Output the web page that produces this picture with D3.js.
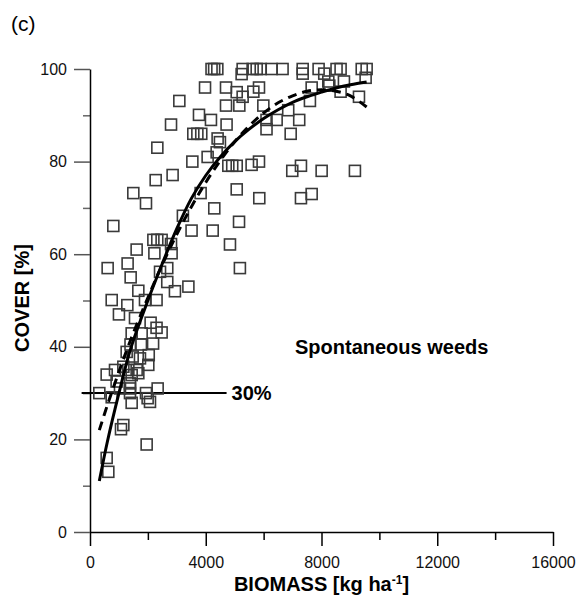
<!DOCTYPE html>
<html>
<head>
<meta charset="utf-8">
<script src="https://cdn.jsdelivr.net/npm/d3@7"></script>
<style>
  body { margin: 0; background: #fff; }
  svg { display: block; }
  text { font-family: "Liberation Sans", Arial, sans-serif; }
</style>
</head>
<body>
<div id="chart"></div>
<script>
// scatter of plots: biomass (kg/ha) vs cover (%)
var biomass = [
  4200, 4290, 4400, 5275, 5240, 5620, 5760, 3975, 4700, 5070, 5275, 5645, 5840, 3087,
  4700, 5160, 5990, 3766, 4180, 4720, 2800, 3570, 3710, 3845, 4410, 4490, 2327, 4377,
  4065, 3537, 4780, 4915, 5070, 5585, 2855, 2270, 5070, 1497, 1935, 3823, 4295, 5850,
  3210, 5900, 6275, 6655, 7350, 7350, 7900, 8095, 8520, 8660, 9390, 9560, 8235, 8775,
  8270, 9525, 7660, 8660, 9295, 7600, 6850, 6100, 6450, 7230, 6100, 6935, 5840, 6990,
  7290, 8005, 9155, 7290, 7660, 806, 5150, 3510, 4240, 2190, 2325, 2475, 2800, 4837,
  1612, 2225, 2820, 610, 1300, 5180, 2670, 2420, 1405, 2670, 2935, 3400, 1670, 750,
  1900, 2300, 1290, 1000, 1555, 2095, 2300, 2475, 1440, 1785, 2180, 1400, 1760, 1267,
  2030, 1475, 1727, 864, 576, 1152, 1325, 1612, 2015, 1440, 1670, 920, 1382, 1036,
  1382, 2338, 322, 1382, 1935, 750, 1992, 2073, 1440, 1152, 1071, 1958, 576, 633
];
var cover = [
  100, 100, 100, 100, 98.9, 100, 100, 96, 96, 95, 94, 95.1, 96, 93.1,
  92.1, 92.1, 92.1, 90.1, 89, 88, 88, 86, 86, 86, 85, 84.2, 83, 82,
  81, 80, 79.1, 79.1, 79.1, 79.3, 77.1, 76, 74, 73.2, 71, 73.2, 69.9, 72.1,
  68.3, 100, 100, 100, 100, 99, 100, 99, 100, 100, 100, 100, 97.3, 97.3,
  96.4, 98.1, 96, 95.1, 94, 93.1, 91.1, 89, 89, 89, 87, 86, 80, 78,
  79.1, 78, 78, 72.1, 73, 66.1, 67, 65.1, 65.1, 63.1, 63.1, 63.1, 62.2, 62.1,
  61, 60.2, 60.2, 57, 58, 57, 57, 56.2, 55, 54, 52, 53, 52.1, 50.1,
  50.1, 50.1, 49, 47, 46.2, 45.2, 44.1, 43.1, 42.9, 42.9, 40.7, 40.5, 40.5, 38.9,
  38.2, 37.9, 37.5, 35, 34, 35.7, 35, 35, 36.1, 33.9, 34.3, 32.5, 32.1, 31,
  31, 31, 30, 30, 30, 29.1, 28.9, 28.1, 27.9, 23.1, 22.2, 18.9, 16, 13
];

// fitted curves
var fitBiomass = [322, 600, 1000, 1400, 2000, 2500, 3000, 3500, 4000, 4500, 5000,
                  5500, 6000, 6500, 7000, 7500, 8000, 8500, 9000, 9560];
var fitSolid = [11, 19.5, 30, 39.5, 50, 58, 65.5, 72, 77, 81, 84.3,
                87, 89.3, 91.2, 92.8, 94, 95, 95.9, 96.6, 97.2];
var fitDashed = [22, 27.4, 34.6, 41.4, 50.6, 57.8, 64.3, 70.2, 75.5, 80.2, 84.3,
                 87.7, 90.5, 92.7, 94.2, 95.2, 95.5, 95.2, 94.2, 91.8];

var xMajor = [0, 4000, 8000, 12000, 16000],
    xMinor = [2000, 6000, 10000, 14000],
    yMajor = [0, 20, 40, 60, 80, 100],
    yMinor = [10, 30, 50, 70, 90];

var thresholdCover = 30,
    thresholdFrom = -290,
    thresholdTo = 4720;

var width = 578, height = 595;

var svg = d3.select('#chart').append('svg')
    .attr('width', width)
    .attr('height', height);

var x = d3.scaleLinear().domain([0, 16000]).range([90, 553]),
    y = d3.scaleLinear().domain([0, 100]).range([532, 69]);

// minor ticks
svg.append('g')
    .attr('transform', 'translate(0,' + y(0) + ')')
    .call(d3.axisBottom(x).tickValues(xMinor).tickSize(8).tickFormat(''))
    .call(function(g) { g.select('.domain').remove(); })
    .selectAll('line').attr('stroke', '#000').attr('stroke-width', 1.5);

svg.append('g')
    .attr('transform', 'translate(' + x(0) + ',0)')
    .call(d3.axisLeft(y).tickValues(yMinor).tickSize(7).tickFormat(''))
    .call(function(g) { g.select('.domain').remove(); })
    .selectAll('line').attr('stroke', '#666').attr('stroke-width', 1.5);

// major ticks with labels
var xAxis = svg.append('g')
    .attr('transform', 'translate(0,' + y(0) + ')')
    .call(d3.axisBottom(x).tickValues(xMajor).tickFormat(d3.format('d'))
            .tickSize(14).tickSizeOuter(0).tickPadding(11));

xAxis.select('.domain').attr('stroke', '#000').attr('stroke-width', 1.5);
xAxis.selectAll('line').attr('stroke', '#000').attr('stroke-width', 1.5);
xAxis.selectAll('text')
    .attr('fill', '#111')
    .style('font-size', '16px')
    .style('font-family', '"Liberation Sans", Arial, sans-serif');

var yAxis = svg.append('g')
    .attr('transform', 'translate(' + x(0) + ',0)')
    .call(d3.axisLeft(y).tickValues(yMajor).tickFormat(d3.format('d'))
            .tickSize(16).tickSizeOuter(0).tickPadding(7));

yAxis.select('.domain').attr('stroke', '#000').attr('stroke-width', 1.5);
yAxis.selectAll('line').attr('stroke', '#555').attr('stroke-width', 1.5);
yAxis.selectAll('text')
    .attr('fill', '#111')
    .style('font-size', '16px')
    .style('font-family', '"Liberation Sans", Arial, sans-serif');

// 30% threshold line
svg.append('line')
    .attr('x1', x(thresholdFrom))
    .attr('x2', x(thresholdTo))
    .attr('y1', y(thresholdCover))
    .attr('y2', y(thresholdCover))
    .attr('stroke', '#000')
    .attr('stroke-width', 2);

svg.append('text')
    .attr('x', x(thresholdTo) + 5)
    .attr('y', y(thresholdCover))
    .attr('dy', '0.36em')
    .attr('font-weight', 'bold')
    .attr('font-size', 20)
    .text('30%');

// points
var pts = d3.zip(biomass, cover);
var sq = 11;

svg.append('g').selectAll('rect')
    .data(pts)
  .enter().append('rect')
    .attr('x', function(d) { return x(d[0]) - sq / 2; })
    .attr('y', function(d) { return y(d[1]) - sq / 2; })
    .attr('width', sq)
    .attr('height', sq)
    .attr('fill', 'none')
    .attr('stroke', '#3a3a3a')
    .attr('stroke-width', 1.6);

// fitted curves
var line = d3.line()
    .x(function(d) { return x(d[0]); })
    .y(function(d) { return y(d[1]); })
    .curve(d3.curveCatmullRom);

svg.append('path')
    .datum(d3.zip(fitBiomass, fitDashed))
    .attr('d', line)
    .attr('fill', 'none')
    .attr('stroke', '#000')
    .attr('stroke-width', 3)
    .attr('stroke-dasharray', '9,6');

svg.append('path')
    .datum(d3.zip(fitBiomass, fitSolid))
    .attr('d', line)
    .attr('fill', 'none')
    .attr('stroke', '#000')
    .attr('stroke-width', 3);

// labels
svg.append('text')
    .attr('x', 295)
    .attr('y', y(40))
    .attr('dy', '0.36em')
    .attr('font-weight', 'bold')
    .attr('font-size', 20)
    .text('Spontaneous weeds');

var xt = svg.append('text')
    .attr('x', x(8000))
    .attr('y', 591)
    .attr('text-anchor', 'middle')
    .attr('font-weight', 'bold')
    .attr('font-size', 20);
xt.append('tspan').text('BIOMASS [kg ha');
xt.append('tspan').attr('font-size', 12).attr('dy', -7).text('-1');
xt.append('tspan').attr('dy', 7).text(']');

svg.append('text')
    .attr('transform', 'translate(29,298) rotate(-90)')
    .attr('text-anchor', 'middle')
    .attr('font-weight', 'bold')
    .attr('font-size', 20)
    .text('COVER [%]');

svg.append('text')
    .attr('x', 11)
    .attr('y', 31)
    .attr('font-family', 'Lato, "Open Sans", sans-serif')
    .attr('font-size', 21)
    .text('(c)');
</script>
</body>
</html>
